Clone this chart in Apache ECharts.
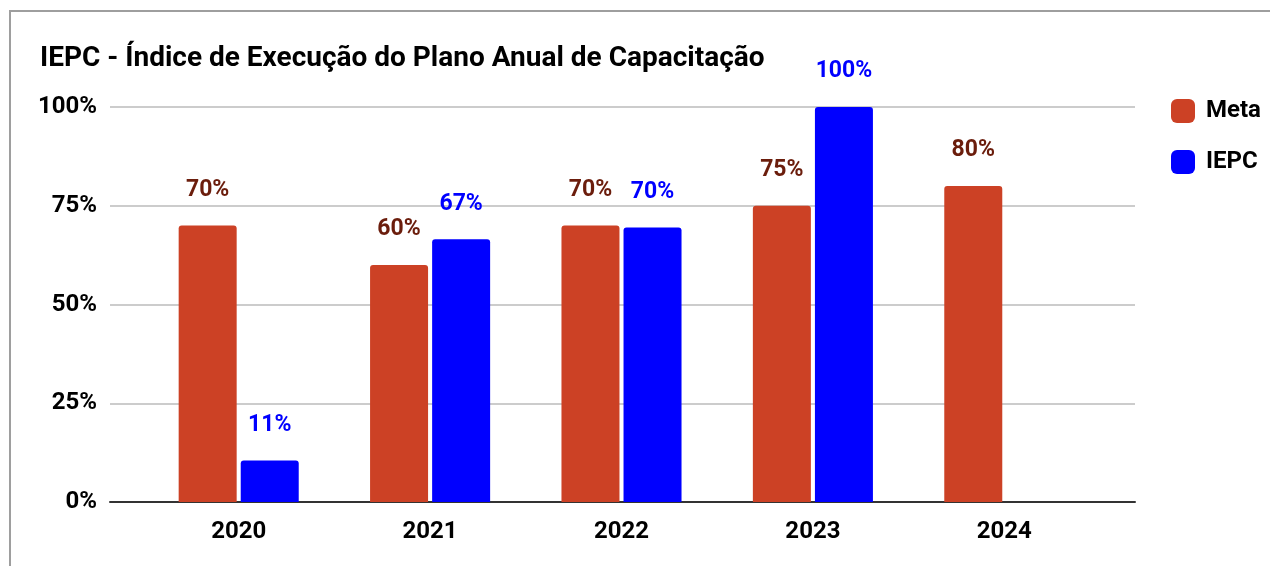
<!DOCTYPE html>
<html><head><meta charset="utf-8">
<script src="https://cdn.jsdelivr.net/npm/echarts@6/dist/echarts.min.js"></script>
<style>
html,body{margin:0;padding:0;background:#fff;overflow:hidden;}
#frame{position:absolute;left:9px;top:10px;width:1300px;height:600px;border-left:2px solid #9e9e9e;border-top:2px solid #9e9e9e;}
#c{position:absolute;left:0;top:0;width:1270px;height:566px;}
</style></head>
<body>
<div id="frame"></div>
<div id="c"></div>
<script>
const categories = ['2020', '2021', '2022', '2023', '2024'];
const metaValues = [70, 60, 70, 75, 80];
const iepcValues = [10.5, 66.5, 69.5, 100, null];
const yTicks = [0, 25, 50, 75, 100];

const chart = echarts.init(document.getElementById('c'));
const FONT = 'Roboto';
const pct = p => Math.round(p.value) + '%';
chart.setOption({
  animation: false,
  textStyle: { fontFamily: FONT },
  title: {
    text: 'IEPC - Índice de Execução do Plano Anual de Capacitação',
    left: 35, top: 40,
    textStyle: { fontFamily: FONT, fontSize: 28, fontWeight: 'bold', color: '#000' }
  },
  legend: {
    orient: 'vertical', left: 1166, top: 94,
    itemWidth: 24, itemHeight: 24, itemGap: 27,
    icon: 'roundRect',
    textStyle: { fontFamily: FONT, fontSize: 24, fontWeight: 'bold', color: '#000', padding: [0, 0, 0, 6] },
    data: ['Meta', 'IEPC']
  },
  grid: [
    { left: 110, right: 135, top: 107, bottom: 64 },
    { left: 143, right: 170, top: 107, bottom: 64 }
  ],
  xAxis: [
    { type: 'category', gridIndex: 0, data: categories,
      axisLine: { show: true, lineStyle: { color: '#333', width: 2 } },
      axisTick: { show: false }, axisLabel: { show: false } },
    { type: 'category', gridIndex: 1, data: categories,
      axisLine: { show: false }, axisTick: { show: false },
      axisLabel: { fontFamily: FONT, fontSize: 24, fontWeight: 'bold', color: '#000', margin: 18 } }
  ],
  yAxis: [
    { type: 'value', gridIndex: 0, min: 0, max: 100, interval: 25,
      axisLine: { show: false }, axisTick: { show: false },
      splitLine: { lineStyle: { color: '#cccccc', width: 2 } },
      axisLabel: { fontFamily: FONT, fontSize: 24, fontWeight: 'bold', color: '#000', margin: 13,
        padding: [5, 0, 0, 0],
        formatter: v => yTicks.includes(v) ? v + '%' : '' } },
    { type: 'value', gridIndex: 1, min: 0, max: 100, interval: 25, show: false,
      splitLine: { show: false } }
  ],
  series: [
    { name: 'Meta', type: 'bar', xAxisIndex: 1, yAxisIndex: 1, data: metaValues,
      barWidth: 58, barGap: '7%',
      itemStyle: { color: '#cc4125', borderRadius: [3, 3, 0, 0] },
      label: { show: true, position: 'top', distance: 24, formatter: pct,
        fontFamily: FONT, fontSize: 23, fontWeight: 'bold', color: '#6b1d0c' } },
    { name: 'IEPC', type: 'bar', xAxisIndex: 1, yAxisIndex: 1, data: iepcValues,
      barWidth: 58, barGap: '7%',
      itemStyle: { color: '#0000ff', borderRadius: [3, 3, 0, 0] },
      label: { show: true, position: 'top', distance: 24, formatter: pct,
        fontFamily: FONT, fontSize: 23, fontWeight: 'bold', color: '#0000ff' } }
  ]
});
</script>
</body></html>
